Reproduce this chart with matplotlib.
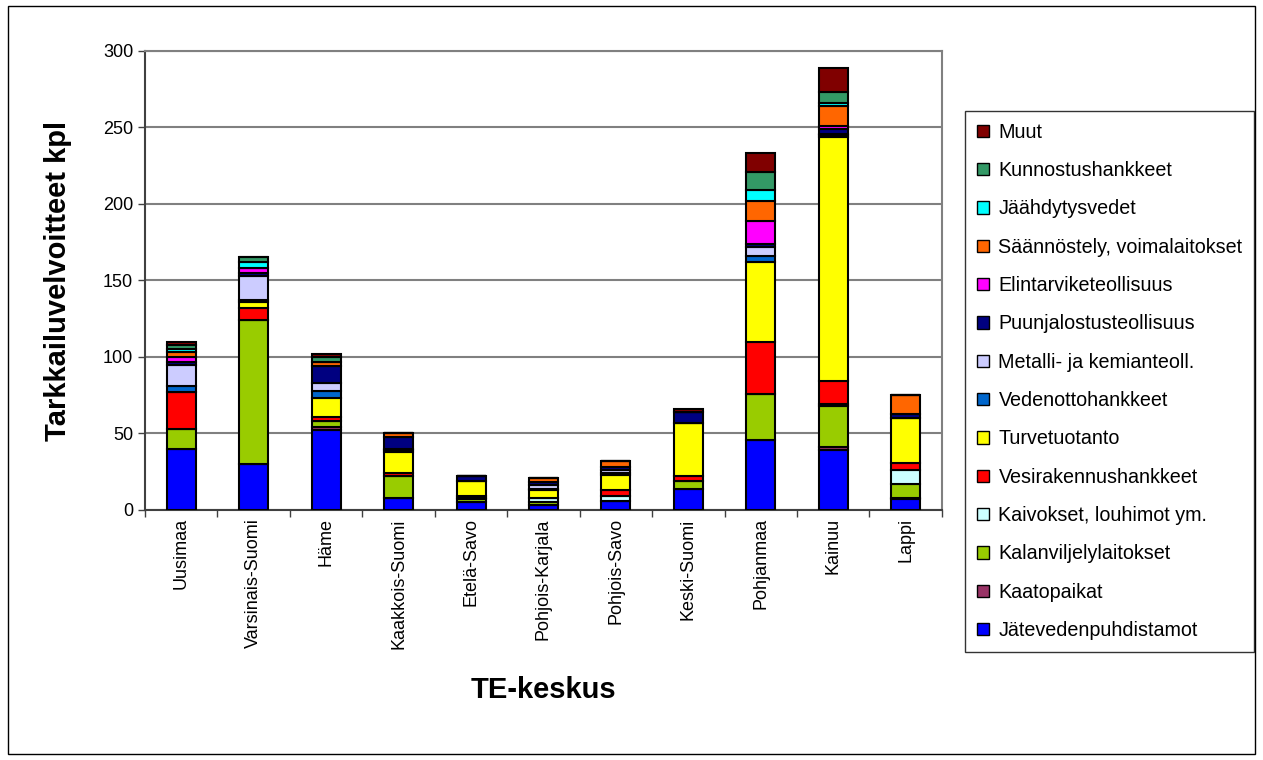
import numpy as np
import matplotlib.pyplot as plt
from matplotlib.patches import Rectangle

plt.rcParams['font.family'] = ['Liberation Sans', 'DejaVu Sans']

# TE-keskukset
categories = ['Uusimaa', 'Varsinais-Suomi', 'Häme', 'Kaakkois-Suomi', 'Etelä-Savo',
              'Pohjois-Karjala', 'Pohjois-Savo', 'Keski-Suomi', 'Pohjanmaa', 'Kainuu', 'Lappi']

# tarkkailuvelvoitteet toimialoittain (kpl), pinottu alhaalta ylös
jatevesi      = [40, 30, 52,  8,  5,  3,  6, 14, 46,  39,  7]
kaatopaikat   = [ 0,  0,  2,  0,  0,  0,  0,  0,  0,   2,  1]
kalanviljely  = [13, 94,  4, 14,  2,  2,  0,  5, 30,  27,  9]
kaivokset     = [ 0,  0,  0,  0,  1,  3,  3,  0,  0,   1,  9]
vesirakennus  = [24,  8,  3,  2,  1,  0,  4,  3, 34,  15,  5]
turve         = [ 0,  4, 12, 14, 10,  5, 10, 35, 52, 160, 29]
vedenotto     = [ 4,  1,  5,  1,  0,  1,  1,  0,  4,   1,  0]
metalli       = [14, 16,  5,  1,  0,  2,  2,  0,  6,   1,  0]
puunjalostus  = [ 2,  2, 11,  8,  3,  2,  2,  7,  2,   3,  3]
elintarvike   = [ 3,  3,  0,  0,  0,  0,  0,  0, 15,   2,  0]
saannostely   = [ 3,  0,  3,  2,  0,  3,  4,  0, 13,  13, 12]
jaahdytys     = [ 2,  4,  0,  0,  0,  0,  0,  0,  7,   2,  0]
kunnostus     = [ 3,  3,  3,  0,  0,  0,  0,  0, 12,   7,  0]
muut          = [ 2,  0,  2,  0,  0,  0,  0,  2, 12,  16,  0]

series = [
    ('Jätevedenpuhdistamot', jatevesi, '#0000FF'),
    ('Kaatopaikat', kaatopaikat, '#993366'),
    ('Kalanviljelylaitokset', kalanviljely, '#99CC00'),
    ('Kaivokset, louhimot ym.', kaivokset, '#CCFFFF'),
    ('Vesirakennushankkeet', vesirakennus, '#FF0000'),
    ('Turvetuotanto', turve, '#FFFF00'),
    ('Vedenottohankkeet', vedenotto, '#0066CC'),
    ('Metalli- ja kemianteoll.', metalli, '#CCCCFF'),
    ('Puunjalostusteollisuus', puunjalostus, '#000080'),
    ('Elintarviketeollisuus', elintarvike, '#FF00FF'),
    ('Säännöstely, voimalaitokset', saannostely, '#FF6600'),
    ('Jäähdytysvedet', jaahdytys, '#00FFFF'),
    ('Kunnostushankkeet', kunnostus, '#339966'),
    ('Muut', muut, '#800000'),
]

fig = plt.figure(figsize=(12.63, 7.6), dpi=100)
ax = fig.add_axes([0.1148, 0.329, 0.631, 0.604])

x = np.arange(len(categories))
bottom = np.zeros(len(categories))
handles = []
for name, vals, color in series:
    vals = np.array(vals, dtype=float)
    b = ax.bar(x, vals, 0.4, bottom=bottom, color=color, edgecolor='black',
               linewidth=1.5, label=name, zorder=3)
    handles.append(b)
    bottom += vals

ax.set_xlim(-0.5, len(categories) - 0.5)
ax.set_ylim(0, 300)
ax.set_yticks(np.arange(0, 301, 50))
ax.yaxis.grid(True, color='#808080', linewidth=1.5, zorder=0)
ax.set_axisbelow(True)

ax.set_xticks(x)
ax.set_xticklabels(categories, rotation=90, fontsize=13)
ax.set_xticks(np.arange(-0.5, len(categories), 1), minor=True)
ax.tick_params(axis='x', which='major', length=0, pad=6)
ax.tick_params(axis='x', which='minor', length=5, width=1, color='#404040')
ax.tick_params(axis='y', labelsize=13, length=5, width=1, color='#404040')

for side in ['top', 'right']:
    ax.spines[side].set_color('#808080')
    ax.spines[side].set_linewidth(1.5)
ax.spines['left'].set_color('#404040')
ax.spines['bottom'].set_color('#404040')
ax.spines['left'].set_linewidth(1.5)
ax.spines['bottom'].set_linewidth(1.5)

ax.set_ylabel('Tarkkailuvelvoitteet kpl', fontsize=21, fontweight='bold', labelpad=22)
ax.set_xlabel('TE-keskus', fontsize=21, fontweight='bold', labelpad=20)

leg = fig.legend(handles[::-1], [s[0] for s in series][::-1],
                 loc='upper left', bbox_to_anchor=(0.764, 0.854),
                 fontsize=14.2, frameon=True, fancybox=False, edgecolor='black',
                 handlelength=0.6, handleheight=0.6, handletextpad=0.5,
                 labelspacing=0.98, borderpad=0.6, borderaxespad=0)
leg.get_frame().set_linewidth(1)
for h in leg.legend_handles:
    h.set_linewidth(1)

# kehys koko kuvion ympärille
fig.patches.append(Rectangle((0.006, 0.008), 0.988, 0.984, transform=fig.transFigure,
                             fill=False, edgecolor='black', linewidth=1))

fig.savefig('out.png', dpi=100)
